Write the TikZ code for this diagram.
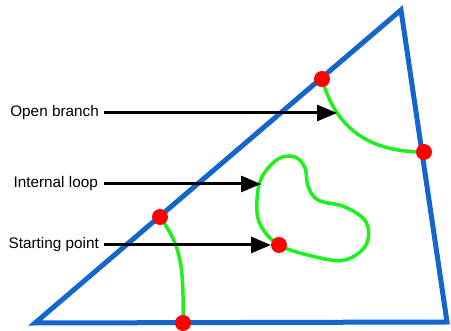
\documentclass[tikz,border=0pt]{standalone}
\usepackage{fontspec}
\setmainfont{Liberation Sans}
\usetikzlibrary{arrows.meta}
\definecolor{triblue}{RGB}{18,102,204}
\definecolor{curvegreen}{RGB}{30,240,30}
\begin{document}
\begin{tikzpicture}[x=1pt,y=-1pt,
  edge/.style={triblue,line width=5pt,line join=miter},
  curve/.style={curvegreen,line width=3.5pt},
  pointer/.style={black,line width=3pt,-{Triangle[length=20pt,width=16pt]}},
  dot/.style={circle,fill=red,inner sep=0pt,minimum size=16pt},
  lab/.style={anchor=east,inner sep=0pt,font=\fontsize{15.3}{17}\selectfont}]
\useasboundingbox (0,0) rectangle (451,331);
\coordinate (A) at (35,323);
\coordinate (B) at (401,10);
\coordinate (C) at (447,322);
\draw[edge] (A) -- (B) -- (C) -- cycle;
\path (322,79) coordinate (p1) (424,152) coordinate (p2)
      (160,217) coordinate (p3) (279,245) coordinate (p4) (183,323) coordinate (p5);
\draw[curve] (p1) .. controls (335,125) and (365,152) .. (p2);
\draw[curve] (p3) .. controls (180,245) and (184,262) .. (p5);
\draw[curve] plot[smooth cycle,tension=0.6] coordinates {(279,245) (260,224) (257,200) (262,177) (278,159) (295,157) (305,168) (308,186) (318,200) (345,207) (366,222) (366,245) (345,260) (316,257)};
\node[lab] (l1) at (99,113) {Open branch};
\node[lab] (l2) at (98,184) {Internal loop};
\node[lab] (l3) at (99,245) {Starting point};
\coordinate (t1) at (337,113);
\coordinate (t2) at (261,184);
\coordinate (t3) at (271,245);
\draw[pointer] (l1.east) ++(5,0) -- (t1);
\draw[pointer] (l2.east) ++(6,0) -- (t2);
\draw[pointer] (l3.east) ++(5,0) -- (t3);
\node[dot] (d1) at (p1) {};
\node[dot] (d2) at (p2) {};
\node[dot] (d3) at (p3) {};
\node[dot] (d4) at (p4) {};
\node[dot] (d5) at (p5) {};
\end{tikzpicture}
\end{document}
